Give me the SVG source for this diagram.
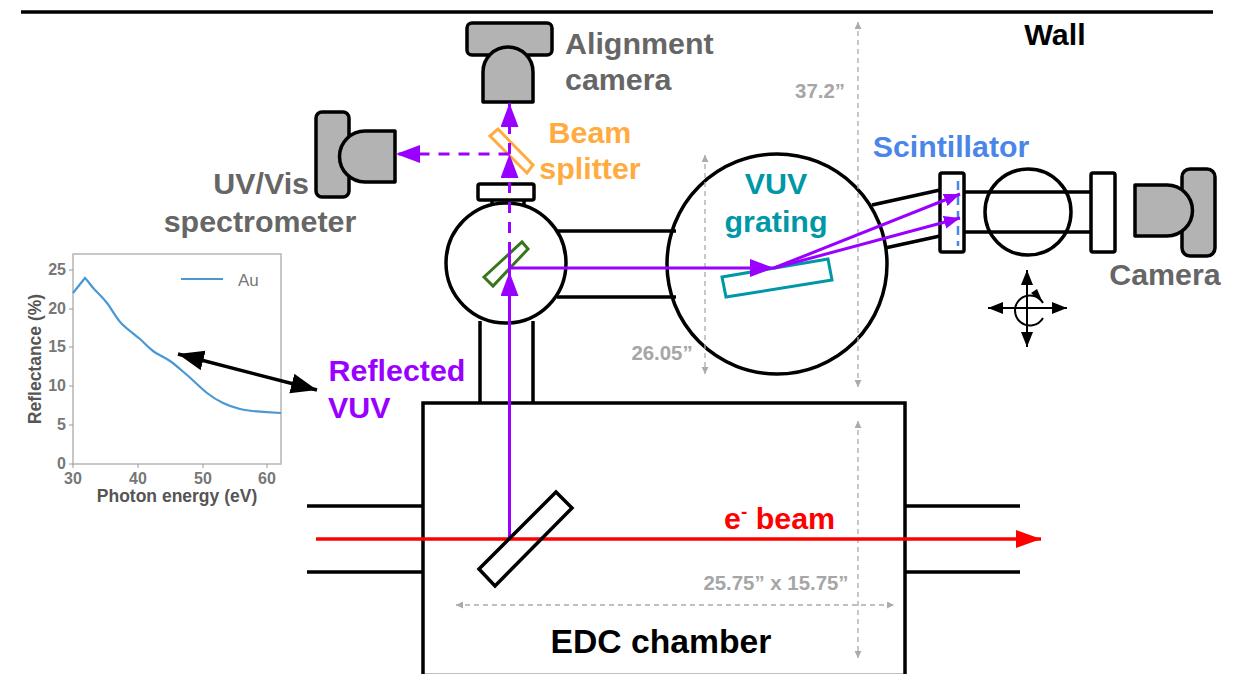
<svg xmlns="http://www.w3.org/2000/svg" width="1239" height="674" viewBox="0 0 1239 674">
<style>
text{font-family:"Liberation Sans",Arial,sans-serif;font-weight:700}
.s{fill:none;stroke:#000;stroke-width:3.5}
.w{fill:#fff;stroke:#000;stroke-width:3.5}
.c{fill:#b3b3b3;stroke:#000;stroke-width:3.5;stroke-linejoin:round}
.p{fill:none;stroke:#9900ff;stroke-width:3}
.pd{fill:none;stroke:#9900ff;stroke-width:3;stroke-dasharray:11 9}
.d{fill:none;stroke:#ababab;stroke-width:1.3;stroke-dasharray:5 4}
.g{fill:#666;font-size:30.400px}
.dim{fill:#a6a6a6;font-size:20.400px}
.tick{fill:#777;font-size:16px;font-weight:400}
.ax{fill:#555;font-size:17.500px}
.v{fill:#9900ff;font-size:30.400px}
.t{fill:#0097a7;font-size:30.400px}
.o{fill:#ffab40;font-size:30.400px}
</style>
<defs>
<marker id="ph" markerUnits="userSpaceOnUse" markerWidth="26" markerHeight="20" refX="24" refY="9" orient="auto"><path d="M0 0L24 9L0 18Z" fill="#9900ff"/></marker>
<marker id="ps" markerUnits="userSpaceOnUse" markerWidth="18" markerHeight="16" refX="16" refY="6.500" orient="auto"><path d="M0 0L16 6.500L0 13Z" fill="#9900ff"/></marker>
<marker id="rh" markerUnits="userSpaceOnUse" markerWidth="28" markerHeight="20" refX="25" refY="9" orient="auto"><path d="M0 0L25 9L0 18Z" fill="#f00"/></marker>
<marker id="ke" markerUnits="userSpaceOnUse" markerWidth="28" markerHeight="22" refX="26" refY="10" orient="auto-start-reverse"><path d="M0 0L26 10L0 20Z" fill="#000"/></marker>
<marker id="kc" markerUnits="userSpaceOnUse" markerWidth="16" markerHeight="16" refX="15" refY="6" orient="auto-start-reverse"><path d="M0 0L15 6L0 12Z" fill="#000"/></marker>
<marker id="ga" markerUnits="userSpaceOnUse" markerWidth="8" markerHeight="8" refX="7" refY="3.500" orient="auto-start-reverse"><path d="M0 0L7 3.500L0 7Z" fill="#ababab"/></marker>
</defs>
<rect width="1239" height="674" fill="#fff"/>
<line id="wall" x1="21" y1="12" x2="1213" y2="12" stroke="#000" stroke-width="3.500"/>

<g id="plot">
<rect x="73" y="254" width="208" height="210" fill="#fff" stroke="#b5b5b5" stroke-width="1.500"/>
<path d="M69 270H73M69 309H73M69 347H73M69 386H73M69 425H73M69 464H73M73 464V468M138 464V468M203 464V468M267 464V468" fill="none" stroke="#999" stroke-width="1"/>
<path d="M73 293L85 278C89 282 91 286 95 290S102.700 297.500 107 303S115.500 317 121 323S134.700 334.300 140 339S148 347.300 153 351S164.300 357 170 361S180.800 369.700 187 375S201 388.300 207 393S217.500 400.300 223 403S235 407.700 240 409S246.200 410.300 253 411S270 412.500 281 413" fill="none" stroke="#4a98d3" stroke-width="2.200"/>
<line x1="181" y1="279" x2="223" y2="279" stroke="#4a98d3" stroke-width="2.200"/>
<text x="238" y="286" class="tick" style="font-size:17px">Au</text>
<g class="tick" text-anchor="end">
<text x="66" y="275">25</text><text x="66" y="314">20</text><text x="66" y="352">15</text><text x="66" y="391">10</text><text x="66" y="430">5</text><text x="66" y="469">0</text>
</g>
<g class="tick" text-anchor="middle">
<text x="73" y="484">30</text><text x="138" y="484">40</text><text x="203" y="484">50</text><text x="267" y="484">60</text>
</g>
<text x="177" y="502" class="ax" text-anchor="middle">Photon energy (eV)</text>
<text transform="translate(41 359) rotate(-90)" class="ax" text-anchor="middle">Reflectance (%)</text>
</g>

<g id="edc-chamber">
<path class="s" d="M423 506H307M423 572H307M905 506H1020M905 572H1020"/>
<rect class="w" x="423" y="403" width="482" height="272.500"/>
<text x="661" y="653" text-anchor="middle" fill="#000" font-size="33.700">EDC chamber</text>
</g>
<g id="pipes">
<path class="s" d="M480 321V403M533 321V403M557 231H676M557 297H676M872 205L940 190M885 248L940 236"/>
</g>
<g id="flange">
<path class="s" d="M492 200V206M524 200V206"/>
<rect class="w" x="478" y="184" width="56" height="16" rx="2"/>
</g>
<g id="mirror-chamber">
<circle class="s" cx="506" cy="263" r="60"/>
</g>
<g id="green-mirror">
<path d="M484 277L522 242L528 249L493 286Z" fill="none" stroke="#38761d" stroke-width="3"/>
</g>
<g id="vuv-grating">
<circle class="s" cx="777" cy="264" r="110"/>
<path d="M722 277L828 259L832 280L726 297Z" fill="none" stroke="#0097a7" stroke-width="3"/>
<text x="776" y="194" text-anchor="middle" class="t">VUV</text>
<text x="776" y="232" text-anchor="middle" class="t">grating</text>
</g>
<g id="scintillator">
<rect class="w" x="940" y="173" width="24" height="79" rx="2"/>
<path d="M964 192H1091M964 232H1091" class="s"/>
<circle class="s" cx="1028" cy="212" r="43"/>
<rect class="w" x="1091" y="173" width="24" height="79" rx="2"/>
<line x1="958" y1="181" x2="958" y2="246" stroke="#4a86e8" stroke-width="2.500" stroke-dasharray="9 6"/>
<text x="951" y="157" text-anchor="middle" fill="#4a86e8" font-size="30.300">Scintillator</text>
</g>
<g id="stage-arrows">
<line x1="1027" y1="270" x2="1027" y2="347" stroke="#000" stroke-width="2" marker-start="url(#kc)" marker-end="url(#kc)"/>
<line x1="988" y1="308" x2="1067" y2="308" stroke="#000" stroke-width="2" marker-start="url(#kc)" marker-end="url(#kc)"/>
<path d="M1043 318A15 15 0 1 1 1043 303" fill="none" stroke="#000" stroke-width="2"/>
<path d="M1043 303L1031 293L1037 289Z" fill="#000"/>
</g>
<g id="camera">
<rect class="c" x="1182" y="169" width="33" height="87" rx="8"/>
<path class="c" d="M1135 185H1167A25.500 25.500 0 0 1 1167 236H1135Z"/>
<text x="1165" y="285" text-anchor="middle" class="g">Camera</text>
</g>
<g id="alignment-camera">
<rect class="c" x="467" y="23" width="85" height="32" rx="5"/>
<path class="c" d="M483 102V72A25 25 0 0 1 533 72V102Z"/>
<text x="565" y="54" class="g">Alignment</text>
<text x="565" y="90" class="g">camera</text>
</g>
<g id="uv-vis-spectrometer">
<rect class="c" x="316" y="112" width="33" height="85" rx="6"/>
<path class="c" d="M395 131H365A25.500 25.500 0 0 0 365 182H395Z"/>
<text x="309" y="194" text-anchor="end" class="g">UV/Vis</text>
<text x="260" y="232" text-anchor="middle" class="g">spectrometer</text>
</g>
<g id="beam-splitter">
<path d="M490 136L498 129L533 165L527 173Z" fill="none" stroke="#ffab40" stroke-width="3"/>
<text x="590" y="143" text-anchor="middle" class="o">Beam</text>
<text x="590" y="179" text-anchor="middle" class="o">splitter</text>
</g>
<g id="labels">
<text x="1055" y="45" text-anchor="middle" fill="#000" font-size="30.400">Wall</text>
<text x="820" y="98" text-anchor="middle" class="dim">37.2”</text>
<text x="662" y="360" text-anchor="middle" class="dim">26.05”</text>
<text x="776" y="590" text-anchor="middle" class="dim">25.75” x 15.75”</text>
<text x="397" y="381" text-anchor="middle" class="v">Reflected</text>
<text x="328" y="418" class="v">VUV</text>
<text x="724" y="529" fill="#f00" font-size="30.400">e<tspan font-size="19" dy="-11">-</tspan><tspan dy="11"> beam</tspan></text>
</g>
<g id="connectors">
<line class="d" x1="858" y1="22" x2="858" y2="387" marker-start="url(#ga)" marker-end="url(#ga)"/>
<line class="d" x1="705" y1="155" x2="705" y2="374" marker-start="url(#ga)" marker-end="url(#ga)"/>
<line class="d" x1="858" y1="421" x2="858" y2="658" marker-start="url(#ga)" marker-end="url(#ga)"/>
<line class="d" x1="456" y1="605" x2="894" y2="605" marker-start="url(#ga)" marker-end="url(#ga)"/>
<line x1="509.500" y1="539" x2="509.500" y2="272" class="p" marker-end="url(#ph)"/>
<line x1="509.500" y1="272" x2="509.500" y2="253" class="p"/>
<line x1="509.500" y1="253" x2="509.500" y2="154" class="pd" marker-end="url(#ph)"/>
<line x1="509.500" y1="154" x2="509.500" y2="103" class="pd" marker-end="url(#ph)"/>
<line x1="509.500" y1="154" x2="396" y2="154" class="pd" marker-end="url(#ph)"/>
<line x1="509.500" y1="268" x2="774" y2="268" class="p" marker-end="url(#ph)"/>
<line x1="774" y1="268" x2="960" y2="194" class="p" stroke-width="2.500" marker-end="url(#ps)"/>
<line x1="774" y1="268" x2="960" y2="218" class="p" stroke-width="2.500" marker-end="url(#ps)"/>
<line x1="316" y1="539" x2="1041" y2="539" stroke="#f00" stroke-width="3.500" marker-end="url(#rh)"/>
<line x1="178" y1="354" x2="317" y2="390" stroke="#000" stroke-width="3.500" marker-start="url(#ke)" marker-end="url(#ke)"/>
</g>
<g id="mirror">
<path class="s" d="M479 569L556 492L572 508L495 586Z" stroke-width="3"/>
</g>
</svg>
